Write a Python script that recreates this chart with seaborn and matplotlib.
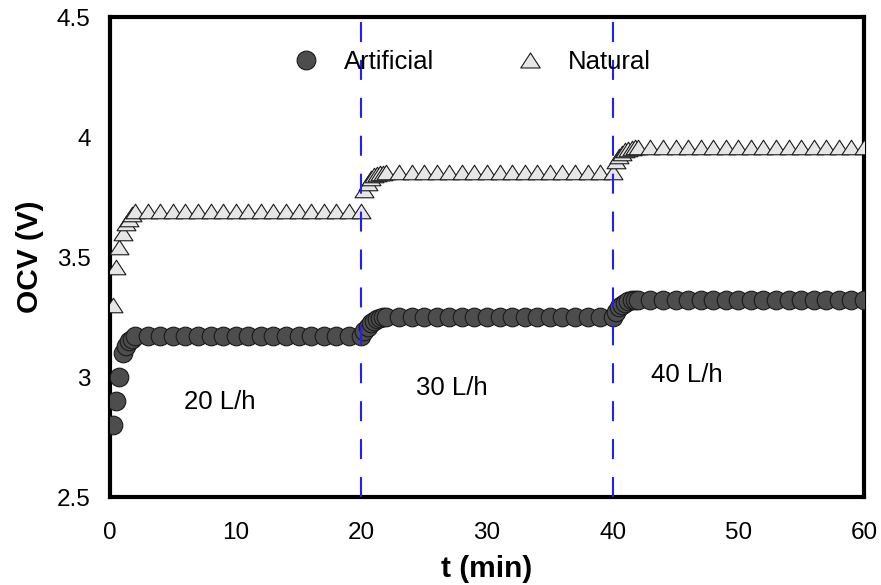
import numpy as np
import pandas as pd
import matplotlib
matplotlib.use("Agg")
import matplotlib.pyplot as plt
from matplotlib.path import Path
from matplotlib.lines import Line2D
import seaborn as sns

# ---- data ----
t_seg1 = [0.25, 0.5, 0.75, 1.0, 1.25, 1.5, 1.75,
          2, 3, 4, 5, 6, 7, 8, 9, 10, 11, 12, 13, 14, 15, 16, 17, 18, 19, 20]
t_seg2 = [20.25, 20.5, 20.75, 21.0, 21.25, 21.5, 21.75,
          22, 23, 24, 25, 26, 27, 28, 29, 30, 31, 32, 33, 34, 35, 36, 37, 38, 39, 40]
t_seg3 = [40.25, 40.5, 40.75, 41.0, 41.25, 41.5, 41.75,
          42, 43, 44, 45, 46, 47, 48, 49, 50, 51, 52, 53, 54, 55, 56, 57, 58, 59, 60]

art_seg1 = [2.80, 2.90, 3.00, 3.10, 3.13, 3.15, 3.16,
            3.17, 3.17, 3.17, 3.17, 3.17, 3.17, 3.17, 3.17, 3.17, 3.17,
            3.17, 3.17, 3.17, 3.17, 3.17, 3.17, 3.17, 3.17, 3.17]
art_seg2 = [3.19, 3.21, 3.225, 3.235, 3.24, 3.245, 3.25,
            3.25, 3.25, 3.25, 3.25, 3.25, 3.25, 3.25, 3.25, 3.25, 3.25,
            3.25, 3.25, 3.25, 3.25, 3.25, 3.25, 3.25, 3.25, 3.25]
art_seg3 = [3.27, 3.29, 3.30, 3.31, 3.315, 3.32, 3.32,
            3.32, 3.32, 3.32, 3.32, 3.32, 3.32, 3.32, 3.32, 3.32, 3.32,
            3.32, 3.32, 3.32, 3.32, 3.32, 3.32, 3.32, 3.32, 3.32]

nat_seg1 = [3.30, 3.46, 3.54, 3.60, 3.64, 3.66, 3.68,
            3.69, 3.69, 3.69, 3.69, 3.69, 3.69, 3.69, 3.69, 3.69, 3.69,
            3.69, 3.69, 3.69, 3.69, 3.69, 3.69, 3.69, 3.69, 3.69]
nat_seg2 = [3.78, 3.81, 3.83, 3.84, 3.845, 3.85, 3.85,
            3.855, 3.855, 3.855, 3.855, 3.855, 3.855, 3.855, 3.855, 3.855, 3.855,
            3.855, 3.855, 3.855, 3.855, 3.855, 3.855, 3.855, 3.855, 3.855]
nat_seg3 = [3.90, 3.92, 3.935, 3.945, 3.95, 3.955, 3.96,
            3.96, 3.96, 3.96, 3.96, 3.96, 3.96, 3.96, 3.96, 3.96, 3.96,
            3.96, 3.96, 3.96, 3.96, 3.96, 3.96, 3.96, 3.96, 3.96]

series_names = ["Artificial", "Natural"]
flow_labels = ["20 L/h", "30 L/h", "40 L/h"]
flow_label_pos = [(8.75, 2.895), (27.2, 2.955), (45.9, 3.008)]
switch_times = [20, 40]
x_ticks = [0, 10, 20, 30, 40, 50, 60]
y_ticks = [2.5, 3, 3.5, 4, 4.5]
y_ticklabels = ["2.5", "3", "3.5", "4", "4.5"]

t_all = t_seg1 + t_seg2 + t_seg3
df_art = pd.DataFrame({"t": t_all, "OCV": art_seg1 + art_seg2 + art_seg3})
df_nat = pd.DataFrame({"t": t_all, "OCV": nat_seg1 + nat_seg2 + nat_seg3})

# ---- style ----
sns.set_style("white")
plt.rcParams["font.family"] = ["Liberation Sans", "DejaVu Sans"]
for k in ["text.color", "axes.labelcolor", "xtick.color", "ytick.color"]:
    plt.rcParams[k] = "black"

fig = plt.figure(figsize=(8.81, 5.85), dpi=100)
ax = fig.add_axes([0.1249, 0.1504, 0.8558, 0.8205])

tri = Path([(0, 0.77), (-1, -0.77), (1, -0.77), (0, 0.77)],
           [Path.MOVETO, Path.LINETO, Path.LINETO, Path.CLOSEPOLY])

sns.scatterplot(data=df_art, x="t", y="OCV", ax=ax, marker="o", s=180,
                color="#4d4d4d", edgecolor="#1a1a1a", linewidth=0.8, zorder=3)
sns.scatterplot(data=df_nat, x="t", y="OCV", ax=ax, marker=tri, s=185,
                color="#e6e6e6", edgecolor="#1a1a1a", linewidth=0.8, zorder=3)

for x in switch_times:
    ax.axvline(x, color="#2020ff", lw=1.5, ls=(0, (9.6, 8.6)), zorder=4)

for lab, (xx, yy) in zip(flow_labels, flow_label_pos):
    ax.text(xx, yy, lab, fontsize=18.5, ha="center", va="center")

ax.set_xlim(0, 60)
ax.set_ylim(2.5, 4.5)
ax.set_xticks(x_ticks)
ax.set_yticks(y_ticks)
ax.set_yticklabels(y_ticklabels)
ax.tick_params(axis="both", direction="in", length=15, width=2.3,
               labelsize=17.5, color="black")
ax.tick_params(axis="y", pad=14)
ax.tick_params(axis="x", pad=18)
for sp in ax.spines.values():
    sp.set_visible(True)
    sp.set_color("black")
    sp.set_linewidth(3)

ax.set_xlabel("t (min)", fontsize=21.5, fontweight="bold", labelpad=8)
ax.set_ylabel("OCV (V)", fontsize=21.5, fontweight="bold", labelpad=9)

handles = [
    Line2D([], [], marker="o", ls="", markersize=13.5, markerfacecolor="#4d4d4d",
           markeredgecolor="#1a1a1a", markeredgewidth=0.8),
    Line2D([], [], marker=tri, ls="", markersize=14, markerfacecolor="#e6e6e6",
           markeredgecolor="#1a1a1a", markeredgewidth=0.8),
]
ax.legend(handles, series_names, loc="center", bbox_to_anchor=(0.476, 0.906),
          ncol=2, frameon=False, fontsize=18.5, columnspacing=3.0,
          handletextpad=0.7, handlelength=1.5)

fig.savefig("out.png", dpi=100)
